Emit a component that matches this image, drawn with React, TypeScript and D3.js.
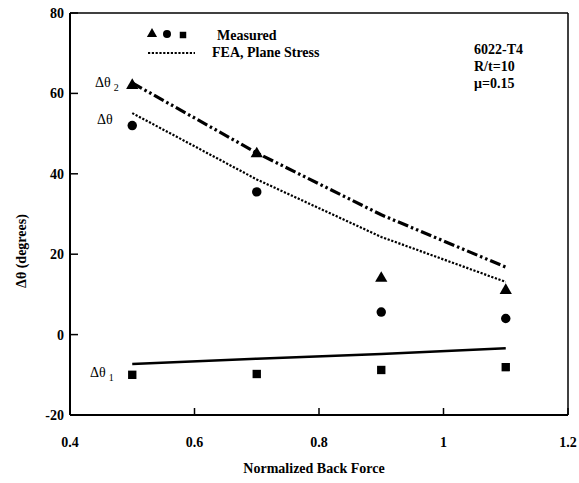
import { scaleLinear, line as d3Line, symbol, symbolTriangle, symbolCircle, symbolSquare } from "d3";

const forces = [0.5, 0.7, 0.9, 1.1];
const measuredD2 = [62, 45, 14, 11];
const measuredD = [52, 35.5, 5.6, 4];
const measuredD1 = [-10, -9.8, -8.8, -8.1];
const feaD2 = [62.6, 45.2, 29.8, 16.8];
const feaD = [55.1, 38.6, 24.3, 13.1];
const feaD1 = [-7.3, -6.0, -4.8, -3.4];
const xTicks = [0.4, 0.6, 0.8, 1, 1.2];
const yTicks = [-20, 0, 20, 40, 60, 80];
const notes = ["6022-T4", "R/t=10", "\u03bc=0.15"];

const font = "Liberation Serif, DejaVu Serif, serif";

export default function App() {
  const margin = { top: 13, right: 11, bottom: 68, left: 70 };
  const W = 579;
  const H = 483;
  const width = W - margin.left - margin.right;
  const height = H - margin.top - margin.bottom;

  const x = scaleLinear().domain([0.4, 1.2]).range([0, width]);
  const y = scaleLinear().domain([-20, 80]).range([height, 0]);

  const mk = (vals: number[]) =>
    d3Line<number>()
      .x((_, i) => x(forces[i]))
      .y((d) => y(d))(vals) ?? "";

  const tri = symbol().type(symbolTriangle).size(65)() ?? "";
  const circ = symbol().type(symbolCircle).size(70)() ?? "";
  const sq = symbol().type(symbolSquare).size(70)() ?? "";

  return (
    <svg width={W} height={H} style={{ position: "absolute", left: 0, top: 0, background: "#fff" }}>
      <g transform={`translate(${margin.left},${margin.top})`} style={{ fontFamily: font }} fontWeight="bold">
        {/* frame */}
        <line x1={0} y1={0} x2={width} y2={0} stroke="#000" strokeWidth={1.5} />
        <line x1={width} y1={0} x2={width} y2={height} stroke="#000" strokeWidth={1.5} />
        <line x1={0} y1={0} x2={0} y2={height} stroke="#000" strokeWidth={2} />
        <line x1={0} y1={height} x2={width} y2={height} stroke="#000" strokeWidth={2} />

        {yTicks.map((t) => (
          <g key={`y${t}`} transform={`translate(0,${y(t)})`}>
            <line x1={0} x2={8} stroke="#000" strokeWidth={1.5} />
            <text x={-6} dy="0.35em" textAnchor="end" fontSize={14}>
              {t}
            </text>
          </g>
        ))}
        {xTicks.map((t) => (
          <g key={`x${t}`} transform={`translate(${x(t)},${height})`}>
            <line y1={0} y2={-7} stroke="#000" strokeWidth={1.5} />
            <text y={32} textAnchor="middle" fontSize={14}>
              {t}
            </text>
          </g>
        ))}

        <text x={width / 2 - 5} y={height + 58} textAnchor="middle" fontSize={14}>
          Normalized Back Force
        </text>
        <text transform={`translate(-44,${height / 2 + 37}) rotate(-90)`} textAnchor="middle" fontSize={14}>
          {"\u0394\u03b8  (degrees)"}
        </text>

        {/* FEA lines */}
        <path d={mk(feaD2)} fill="none" stroke="#000" strokeWidth={3.2} strokeDasharray="11 3 2.5 3 2.5 3" />
        <path d={mk(feaD)} fill="none" stroke="#000" strokeWidth={2.2} strokeDasharray="2.2 1.6" />
        <path d={mk(feaD1)} fill="none" stroke="#000" strokeWidth={2.5} />

        {/* measured */}
        {forces.map((f, i) => (
          <g key={`m${i}`}>
            <path d={tri} transform={`translate(${x(f)},${y(measuredD2[i])})`} fill="#000" />
            <path d={circ} transform={`translate(${x(f)},${y(measuredD[i])})`} fill="#000" />
            <path d={sq} transform={`translate(${x(f)},${y(measuredD1[i])})`} fill="#000" />
          </g>
        ))}

        {/* curve labels */}
        <text x={25} y={y(62) + 2} fontSize={14} fontWeight="normal">
          {"\u0394\u03b8"}
          <tspan fontSize={10} dx={3} dy={4}>2</tspan>
        </text>
        <text x={27} y={y(52) - 2} fontSize={14} fontWeight="normal">
          {"\u0394\u03b8"}
        </text>
        <text x={20} y={y(-10) + 2} fontSize={14} fontWeight="normal">
          {"\u0394\u03b8"}
          <tspan fontSize={10} dx={3} dy={4}>1</tspan>
        </text>

        {/* legend */}
        <path d={symbol().type(symbolTriangle).size(45)() ?? ""} transform="translate(82,21)" fill="#000" />
        <path d={symbol().type(symbolCircle).size(50)() ?? ""} transform="translate(97,21)" fill="#000" />
        <path d={symbol().type(symbolSquare).size(42)() ?? ""} transform="translate(113,22)" fill="#000" />
        <text x={147} y={27} fontSize={14}>Measured</text>
        <line x1={78} x2={125} y1={40} y2={40} stroke="#000" strokeWidth={2} strokeDasharray="2.2 1.6" />
        <text x={142} y={44} fontSize={14}>FEA, Plane Stress</text>

        {notes.map((n, i) => (
          <text key={n} x={404} y={41 + i * 17} fontSize={14}>
            {n}
          </text>
        ))}
      </g>
    </svg>
  );
}
